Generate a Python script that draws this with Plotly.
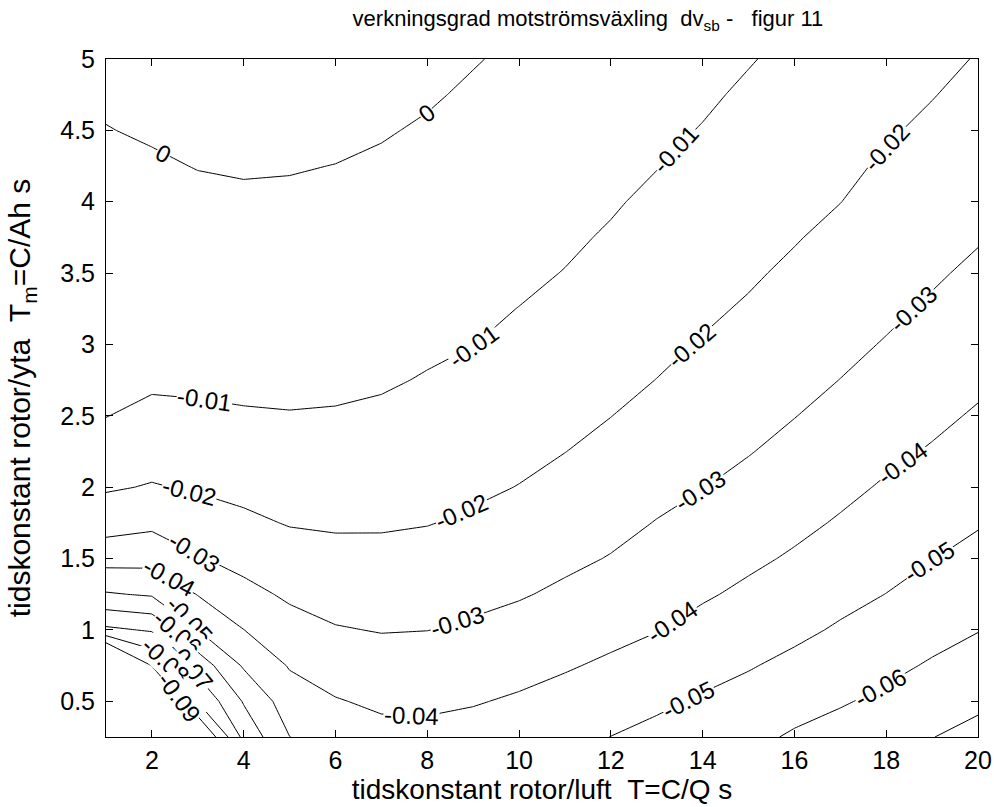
import bisect
import math
import plotly.graph_objects as go

# Time constant rotor/air T = C/Q (s)
T_air = [1, 2, 3, 4, 5, 6, 7, 8, 9, 10, 11, 12, 13, 14, 15, 16, 17, 18, 19, 20]
# Time constant rotor/surface Tm = C/Ah (s)
T_m = [0.25, 0.5, 0.75, 1.0, 1.25, 1.5, 1.75, 2.0, 2.25, 2.5,
       2.75, 3.0, 3.25, 3.5, 3.75, 4.0, 4.25, 4.5, 4.75, 5.0]

# Efficiency deviation dv_sb, one list per T value (rows follow T_m)
dv_T01 = [-0.175, -0.15, -0.122, -0.072, -0.0509, -0.0362, -0.0258, -0.019, -0.0144, -0.0098, -0.0087, -0.0075, -0.0063, -0.0051, -0.0039, -0.0027, -0.0015, -0.0002, 0.001, 0.0022]
dv_T02 = [-0.132, -0.111, -0.0897, -0.069, -0.0489, -0.0367, -0.0279, -0.0206, -0.0163, -0.0124, -0.0084, -0.008, -0.0065, -0.0051, -0.0036, -0.0022, -0.0008, 0.0007, 0.0021, 0.0036]
dv_T03 = [-0.1047, -0.0792, -0.066, -0.05, -0.0396, -0.0307, -0.0245, -0.0191, -0.0154, -0.0118, -0.0081, -0.0076, -0.0061, -0.0045, -0.0029, -0.0014, 0.0002, 0.0018, 0.0033, 0.0049]
dv_T04 = [-0.0672, -0.0592, -0.0489, -0.0401, -0.0329, -0.0269, -0.0217, -0.0177, -0.0143, -0.0109, -0.0077, -0.0073, -0.0057, -0.0042, -0.0026, -0.001, 0.0006, 0.0021, 0.0037, 0.0053]
dv_T05 = [-0.0501, -0.0447, -0.0393, -0.0338, -0.0285, -0.0239, -0.0195, -0.0165, -0.0135, -0.0105, -0.0074, -0.0072, -0.0057, -0.0041, -0.0026, -0.0011, 0.0004, 0.002, 0.0035, 0.005]
dv_T06 = [-0.046, -0.0406, -0.0356, -0.0306, -0.0265, -0.0225, -0.019, -0.0163, -0.0135, -0.0108, -0.0079, -0.0074, -0.0059, -0.0044, -0.0029, -0.0015, -0.0001, 0.0015, 0.003, 0.0045]
dv_T07 = [-0.0429, -0.0384, -0.0339, -0.0296, -0.0259, -0.0223, -0.0191, -0.0166, -0.014, -0.0115, -0.009, -0.008, -0.0066, -0.0052, -0.0037, -0.0023, -0.0009, 0.0005, 0.0019, 0.0034]
dv_T08 = [-0.0425, -0.0383, -0.0341, -0.0299, -0.0264, -0.023, -0.0197, -0.0174, -0.0151, -0.0128, -0.0106, -0.0085, -0.0076, -0.0062, -0.0048, -0.0035, -0.0021, -0.0007, 0.0007, 0.002]
dv_T09 = [-0.0434, -0.0394, -0.0353, -0.0313, -0.0278, -0.0245, -0.0212, -0.0186, -0.0165, -0.0143, -0.0122, -0.0099, -0.0087, -0.0074, -0.0061, -0.0048, -0.0035, -0.0022, -0.0009, 0.0004]
dv_T10 = [-0.0452, -0.0411, -0.0371, -0.0331, -0.0293, -0.0263, -0.0233, -0.0202, -0.0181, -0.0161, -0.0141, -0.012, -0.0101, -0.0087, -0.0075, -0.0062, -0.005, -0.0037, -0.0025, -0.0012]
dv_T11 = [-0.0473, -0.0431, -0.0392, -0.0354, -0.0315, -0.0283, -0.0255, -0.0227, -0.0199, -0.018, -0.016, -0.0141, -0.0122, -0.0102, -0.0089, -0.0077, -0.0065, -0.0053, -0.0041, -0.0029]
dv_T12 = [-0.0501, -0.0457, -0.0414, -0.0376, -0.034, -0.0304, -0.0277, -0.0251, -0.0224, -0.0199, -0.018, -0.0162, -0.0144, -0.0126, -0.0107, -0.0093, -0.0081, -0.0069, -0.0058, -0.0046]
dv_T13 = [-0.0526, -0.0483, -0.044, -0.0397, -0.0366, -0.0334, -0.0303, -0.0277, -0.0252, -0.0226, -0.0201, -0.0183, -0.0166, -0.0149, -0.0131, -0.0114, -0.0098, -0.0086, -0.0074, -0.0062]
dv_T14 = [-0.0551, -0.051, -0.0469, -0.0428, -0.039, -0.0359, -0.0328, -0.0298, -0.0275, -0.0251, -0.0228, -0.0205, -0.0187, -0.017, -0.0153, -0.0136, -0.0119, -0.0103, -0.009, -0.0079]
dv_T15 = [-0.0577, -0.0532, -0.0494, -0.0455, -0.0417, -0.0384, -0.0354, -0.0325, -0.0296, -0.0274, -0.0252, -0.023, -0.0208, -0.019, -0.0174, -0.0158, -0.0142, -0.0126, -0.011, -0.0096]
dv_T16 = [-0.0611, -0.0566, -0.0521, -0.0481, -0.0446, -0.041, -0.038, -0.0353, -0.0325, -0.0298, -0.0277, -0.0256, -0.0235, -0.0214, -0.0195, -0.0179, -0.0163, -0.0148, -0.0132, -0.0116]
dv_T17 = [-0.0635, -0.0592, -0.0551, -0.051, -0.0475, -0.0441, -0.0408, -0.038, -0.0354, -0.0327, -0.0301, -0.0281, -0.0261, -0.024, -0.022, -0.0199, -0.0185, -0.0169, -0.0154, -0.0138]
dv_T18 = [-0.0665, -0.0619, -0.0579, -0.054, -0.0501, -0.047, -0.0439, -0.0409, -0.0382, -0.0356, -0.0331, -0.0305, -0.0285, -0.0266, -0.0247, -0.0228, -0.0209, -0.0192, -0.0176, -0.016]
dv_T19 = [-0.0698, -0.0655, -0.0609, -0.0571, -0.0534, -0.0498, -0.0467, -0.0437, -0.0407, -0.0382, -0.0358, -0.0334, -0.031, -0.029, -0.0271, -0.0252, -0.0234, -0.0215, -0.0197, -0.0182]
dv_T20 = [-0.073, -0.0681, -0.0639, -0.0597, -0.0562, -0.0527, -0.0493, -0.0465, -0.0437, -0.0409, -0.0384, -0.0361, -0.0338, -0.0315, -0.0294, -0.0276, -0.0258, -0.024, -0.0222, -0.0204]

# Contour levels drawn
levels = [0.0, -0.01, -0.02, -0.03, -0.04, -0.05, -0.06, -0.07, -0.08, -0.09]

# Inline labels: (level, T position where the label sits on that line)
label_spots = [
    (0.0, 2.25), (0.0, 7.98),
    (-0.01, 3.15), (-0.01, 9.0), (-0.01, 13.4),
    (-0.02, 2.82), (-0.02, 8.75), (-0.02, 13.75), (-0.02, 18.0),
    (-0.03, 2.93), (-0.03, 8.65), (-0.03, 13.95), (-0.03, 18.6),
    (-0.04, 2.39), (-0.04, 7.65), (-0.04, 13.35), (-0.04, 18.35),
    (-0.05, 2.83), (-0.05, 13.7), (-0.05, 18.95),
    (-0.06, 2.55), (-0.06, 17.88),
    (-0.07, 2.85),
    (-0.08, 2.3),
    (-0.09, 2.6),
]

x_ticks = [2, 4, 6, 8, 10, 12, 14, 16, 18, 20]
y_ticks = [0.5, 1, 1.5, 2, 2.5, 3, 3.5, 4, 4.5, 5]
y_tick_text = ["0.5", "1", "1.5", "2", "2.5", "3", "3.5", "4", "4.5", "5"]

columns = [dv_T01, dv_T02, dv_T03, dv_T04, dv_T05, dv_T06, dv_T07, dv_T08, dv_T09, dv_T10,
           dv_T11, dv_T12, dv_T13, dv_T14, dv_T15, dv_T16, dv_T17, dv_T18, dv_T19, dv_T20]
z_grid = [list(row) for row in zip(*columns)]

FONT = "Liberation Sans, Arial, Helvetica, sans-serif"
NB = "\u00a0"

W, H = 994, 807
M = dict(l=106, r=16, t=59, b=70)
X_RANGE = [1, 20]
Y_RANGE = [0.25, 5]
px_per_x = (W - M["l"] - M["r"]) / (X_RANGE[1] - X_RANGE[0])
px_per_y = (H - M["t"] - M["b"]) / (Y_RANGE[1] - Y_RANGE[0])


def z_at(x, y):
    """Bilinear value of the grid at (x, y)."""
    i = max(0, min(len(T_air) - 2, bisect.bisect_right(T_air, x) - 1))
    j = max(0, min(len(T_m) - 2, bisect.bisect_right(T_m, y) - 1))
    tx = (x - T_air[i]) / (T_air[i + 1] - T_air[i])
    ty = (y - T_m[j]) / (T_m[j + 1] - T_m[j])
    return (z_grid[j][i] * (1 - tx) * (1 - ty) + z_grid[j][i + 1] * tx * (1 - ty)
            + z_grid[j + 1][i] * (1 - tx) * ty + z_grid[j + 1][i + 1] * tx * ty)


def y_on_level(x, lvl):
    """Where the level line crosses the vertical line at x."""
    n = 1900
    y_prev = T_m[0]
    z_prev = z_at(x, y_prev)
    for k in range(1, n + 1):
        y = T_m[0] + (T_m[-1] - T_m[0]) * k / n
        z = z_at(x, y)
        if (z_prev - lvl) * (z - lvl) <= 0 and z != z_prev:
            return y_prev + (y - y_prev) * (lvl - z_prev) / (z - z_prev)
        y_prev, z_prev = y, z
    return None


def label_angle(x, y, h=0.15):
    """On-screen direction of the level line at (x, y), degrees clockwise."""
    dzdx = (z_at(x + h, y) - z_at(x - h, y)) / (2 * h)
    hy = h * 0.3
    dzdy = (z_at(x, y + hy) - z_at(x, y - hy)) / (2 * hy)
    gx = dzdx / px_per_x
    gy = -dzdy / px_per_y
    ang = math.degrees(math.atan2(gx, -gy))
    while ang > 90:
        ang -= 180
    while ang <= -90:
        ang += 180
    return ang


def level_text(lvl):
    v = round(lvl, 2)
    return "0" if v == 0 else f"{v:g}"


fig = go.Figure(
    go.Contour(
        x=T_air,
        y=T_m,
        z=z_grid,
        autocontour=False,
        contours=dict(
            start=min(levels),
            end=max(levels) + 0.0001,
            size=0.01,
            coloring="none",
            showlabels=False,
        ),
        line=dict(color="black", width=1, smoothing=0),
        showscale=False,
        hoverinfo="skip",
    )
)

annotations = []
for lvl, xs in label_spots:
    ys = y_on_level(xs, lvl)
    if ys is None:
        continue
    annotations.append(dict(
        x=xs, y=ys, xref="x", yref="y",
        text=level_text(lvl),
        showarrow=False,
        textangle=label_angle(xs, ys),
        font=dict(family=FONT, size=24, color="black"),
        bgcolor="white",
        borderpad=0,
        xanchor="center",
        yanchor="middle",
    ))

axis_common = dict(
    showline=True,
    linecolor="black",
    linewidth=1,
    mirror="ticks",
    ticks="inside",
    ticklen=7,
    tickcolor="black",
    showgrid=False,
    zeroline=False,
    automargin=False,
    tickfont=dict(family=FONT, size=25, color="black"),
)

fig.update_layout(
    width=W,
    height=H,
    margin=M,
    paper_bgcolor="white",
    plot_bgcolor="white",
    font=dict(family=FONT, size=24, color="black"),
    annotations=annotations,
    title=dict(
        text=f"verkningsgrad motströmsväxling{NB}{NB}dv<sub>sb</sub> -{NB}{NB} figur 11",
        x=0.5915,
        xanchor="center",
        y=0.977,
        yanchor="middle",
        font=dict(family=FONT, size=22, color="black"),
    ),
    xaxis=dict(
        range=X_RANGE,
        tickvals=x_ticks,
        ticklabelstandoff=1,
        title=dict(text=f"tidskonstant rotor/luft{NB}{NB}T=C/Q s", standoff=6,
                   font=dict(family=FONT, size=28)),
        **axis_common,
    ),
    yaxis=dict(
        range=Y_RANGE,
        tickvals=y_ticks,
        ticktext=y_tick_text,
        ticklabelstandoff=5,
        title=dict(text=f"tidskonstant rotor/yta{NB}{NB}T<sub>m</sub>=C/Ah s", standoff=20,
                   font=dict(family=FONT, size=30)),
        **axis_common,
    ),
)

fig.write_html("out.html")
